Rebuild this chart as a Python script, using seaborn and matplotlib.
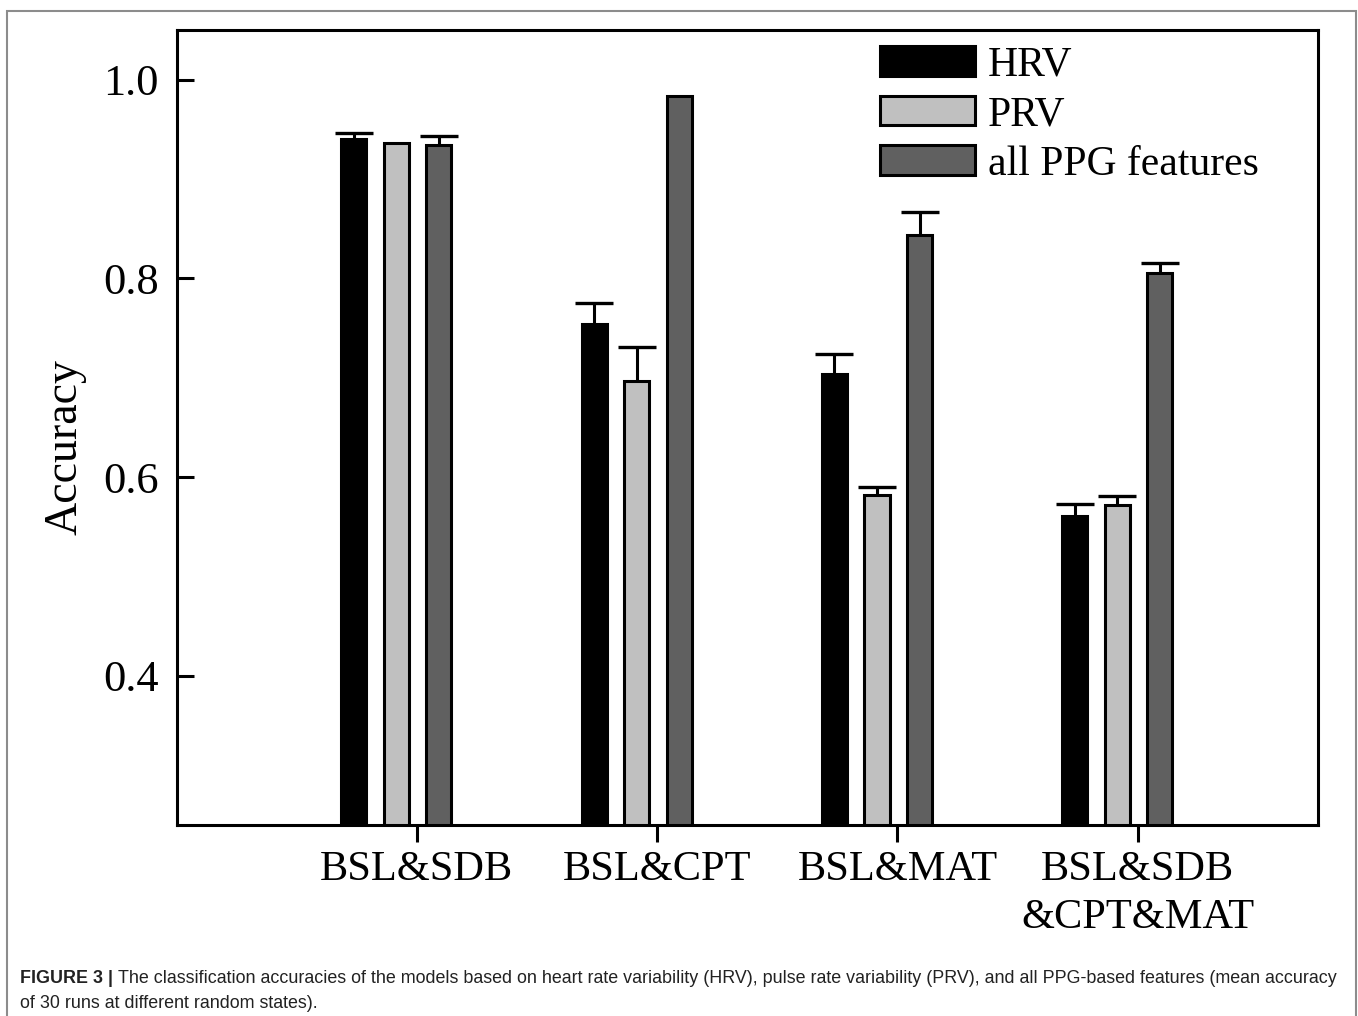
import numpy as np
import pandas as pd
import seaborn as sns
import matplotlib.pyplot as plt
from matplotlib.patches import Rectangle
from matplotlib.transforms import ScaledTranslation

categories = ["BSL&SDB", "BSL&CPT", "BSL&MAT", "BSL&SDB\n&CPT&MAT"]
series = ["HRV", "PRV", "all PPG features"]
hrv_mean = [0.940, 0.754, 0.704, 0.561]
hrv_err = [0.006, 0.021, 0.020, 0.012]
prv_mean = [0.936, 0.697, 0.582, 0.572]
prv_err = [0.0, 0.034, 0.008, 0.009]
ppg_mean = [0.934, 0.984, 0.844, 0.805]
ppg_err = [0.009, 0.0, 0.023, 0.011]
colors = ["#000000", "#c0c0c0", "#606060"]

means = [hrv_mean, prv_mean, ppg_mean]
errs = [hrv_err, prv_err, ppg_err]
rows = []
for s, m, e in zip(series, means, errs):
    for c, v, ev in zip(categories, m, e):
        rows.append({"category": c, "series": s, "accuracy": v, "err": ev})
df = pd.DataFrame(rows)

sns.set_style("white")
plt.rcParams["font.family"] = ["Liberation Serif", "DejaVu Serif"]
plt.rcParams["text.color"] = "black"
plt.rcParams["axes.labelcolor"] = "black"
plt.rcParams["xtick.color"] = "black"
plt.rcParams["ytick.color"] = "black"

fig = plt.figure(figsize=(13.58, 10.16), dpi=100)
ax = fig.add_axes([177 / 1358, 1 - 825 / 1016, (1318 - 177) / 1358, (825 - 30) / 1016])

sns.barplot(data=df, x="category", y="accuracy", hue="series", order=categories,
            hue_order=series, palette=colors, width=0.531, gap=0.41,
            edgecolor="black", linewidth=2.2, errorbar=None, ax=ax, zorder=2)

# upper-only error bars (stem + top cap) at the bar positions
for cont, e in zip(ax.containers, errs):
    for rect, ev in zip(cont.patches, e):
        if ev > 0:
            xc = rect.get_x() + rect.get_width() / 2
            top = rect.get_height()
            ax.vlines(xc, top, top + ev, color="black", linewidth=2.2, zorder=1)
            ax.plot([xc], [top + ev], marker="_", markersize=27, markeredgewidth=2.4,
                     color="black", zorder=1)

ax.set_ylim(0.25, 1.05)
ax.set_xlim(-0.913, 3.835)
ax.set_yticks([0.4, 0.6, 0.8, 1.0])
ax.set_yticklabels(["0.4", "0.6", "0.8", "1.0"], fontsize=32)
ax.set_xticks(np.arange(len(categories)) + 0.085)
ax.set_xticklabels(categories, fontsize=30.5, linespacing=1.35)
last = ax.get_xticklabels()[-1]
last.set_transform(last.get_transform() + ScaledTranslation(0.12, 0, fig.dpi_scale_trans))
ax.tick_params(axis="y", direction="in", length=12, width=2.2, pad=13, left=True,
               colors="black")
ax.tick_params(axis="x", direction="out", length=12, width=2.2, pad=6, bottom=True,
               colors="black")
ax.set_xlabel("")
ax.set_ylabel("Accuracy", fontsize=33, color="black")
ax.yaxis.set_label_coords(-0.079, 0.475)
for sp in ax.spines.values():
    sp.set_linewidth(2.2)
    sp.set_color("black")
    sp.set_visible(True)

leg = ax.legend(loc="upper left", bbox_to_anchor=(0.616, 0.980), frameon=False,
                fontsize=30, handlelength=2.28, handleheight=0.72,
                handletextpad=0.31, labelspacing=0.27, borderpad=0, borderaxespad=0)
for t in leg.get_texts():
    t.set_color("black")

# outer gray frame
fig.patches.append(Rectangle((7 / 1358, -0.02), (1356 - 7) / 1358, 1.02 - 10.5 / 1016,
                             transform=fig.transFigure, fill=False,
                             edgecolor="#8c8c8c", linewidth=1.5))

# caption
cap_font = ["Liberation Sans", "DejaVu Sans"]
fs_cap = 12.9
t1 = fig.text(20 / 1358, 1 - 983 / 1016, "FIGURE 3 |", fontsize=fs_cap,
              fontweight="bold", family=cap_font, va="baseline", color="#222222")
fig.canvas.draw()
bb = t1.get_window_extent(renderer=fig.canvas.get_renderer())
fig.text((bb.x1 + 5) / 1358, 1 - 983 / 1016,
         "The classification accuracies of the models based on heart rate variability (HRV), "
         "pulse rate variability (PRV), and all PPG-based features (mean accuracy",
         fontsize=fs_cap, family=cap_font, va="baseline", color="#222222")
fig.text(20 / 1358, 1 - 1008 / 1016, "of 30 runs at different random states).",
         fontsize=fs_cap, family=cap_font, va="baseline", color="#222222")

fig.savefig("out.png", dpi=100)
